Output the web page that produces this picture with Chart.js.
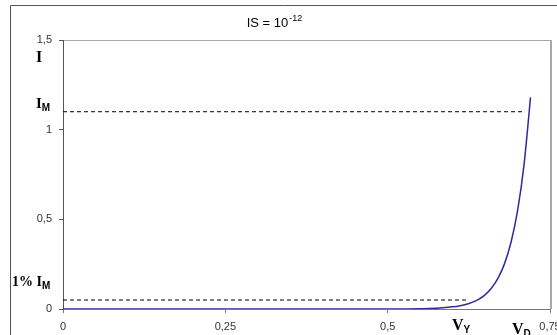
<!DOCTYPE html>
<html>
<head>
<meta charset="utf-8">
<script src="https://cdn.jsdelivr.net/npm/chart.js@4"></script>
<style>
  body { margin: 0; background: #fff; }
  canvas { display: block; }
</style>
</head>
<body>
<canvas id="chart" width="557" height="335"></canvas>
<script>
"use strict";

// diode curve (V, I)
const voltage = [0, 0.1, 0.2, 0.3, 0.4, 0.5, 0.55, 0.58, 0.6, 0.61, 0.62, 0.63, 0.64, 0.65, 0.66, 0.67, 0.68, 0.69, 0.7, 0.71, 0.72];
const current = [0, 0, 0, 0, 0.0001, 0.0002, 0.0016, 0.005, 0.012, 0.017, 0.025, 0.037, 0.054, 0.079, 0.117, 0.172, 0.253, 0.372, 0.547, 0.804, 1.18];

// dashed reference lines
const imLevel = 1.1;
const imEndV = 0.711;
const onePctLevel = 0.05;
const onePctEndV = 0.625;

const xTicks = [0, 0.25, 0.5, 0.75];
const yTicks = [0, 0.5, 1, 1.5];

const SERIF = "'Liberation Serif', 'Times New Roman', serif";
const SANS = "'Liberation Sans', Arial, sans-serif";

const comma = v => String(v).replace(".", ",");

const decor = {
    id: "decor",
    beforeDraw (chart) {
        const {ctx, chartArea: a} = chart;
        ctx.save();
        ctx.fillStyle = "#fff";
        ctx.fillRect(0, 0, chart.width, chart.height);
        // outer frame
        ctx.strokeStyle = "#555";
        ctx.lineWidth = 1;
        ctx.beginPath();
        ctx.moveTo(10.5, 335);
        ctx.lineTo(10.5, 5.5);
        ctx.lineTo(557, 5.5);
        ctx.stroke();
        // plot box
        ctx.strokeStyle = "#a8a8a8";
        ctx.beginPath();
        ctx.moveTo(a.left, a.top + 0.5);
        ctx.lineTo(a.right + 0.5, a.top + 0.5);
        ctx.stroke();
        ctx.lineWidth = 2;
        ctx.beginPath();
        ctx.moveTo(a.right + 1, a.top);
        ctx.lineTo(a.right + 1, a.bottom);
        ctx.stroke();
        ctx.restore();
    },
    afterDraw (chart) {
        const {ctx, scales: {y}} = chart;
        ctx.save();
        ctx.fillStyle = "#000";
        ctx.textBaseline = "alphabetic";

        // title
        const base = "IS = 10";
        ctx.font = "13px " + SANS;
        const w1 = ctx.measureText(base).width;
        ctx.font = "9px " + SANS;
        const w2 = ctx.measureText("-12").width;
        const tx = 274 - (w1 + w2) / 2;
        ctx.font = "13px " + SANS;
        ctx.fillText(base, tx, 27);
        ctx.font = "9px " + SANS;
        ctx.fillText("-12", tx + w1 + 1, 21);

        const sub = (main, s, px, py, size) => {
            ctx.font = "bold " + size + "px " + SERIF;
            ctx.fillText(main, px, py);
            const w = ctx.measureText(main).width;
            ctx.font = "bold 10px " + SANS;
            ctx.fillText(s, px + w, py + 3);
        };

        ctx.font = "bold 16px " + SERIF;
        ctx.fillText("I", 36, 62);
        sub("I", "M", 36, y.getPixelForValue(imLevel) - 4, 15);
        sub("1% I", "M", 12, y.getPixelForValue(onePctLevel) - 14, 14);
        sub("V", "Υ", 452, 330, 16);
        sub("V", "D", 512, 334, 16);
        ctx.restore();
    }
};

new Chart(document.getElementById("chart"), {
    type: "scatter",
    data: {
        datasets: [{
            data: [{x: 0, y: imLevel}, {x: imEndV, y: imLevel}],
            showLine: true,
            borderColor: "#000",
            borderWidth: 1,
            borderDash: [4, 3],
            pointRadius: 0
        }, {
            data: [{x: 0, y: onePctLevel}, {x: onePctEndV, y: onePctLevel}],
            showLine: true,
            borderColor: "#000",
            borderWidth: 1,
            borderDash: [4, 3],
            pointRadius: 0
        }, {
            data: voltage.map((v, i) => ({x: v, y: current[i]})),
            showLine: true,
            borderColor: "#2c2c9c",
            borderWidth: 1.5,
            cubicInterpolationMode: "monotone",
            pointRadius: 0
        }]
    },
    options: {
        responsive: false,
        animation: false,
        devicePixelRatio: 1,
        layout: {padding: {top: 40, right: 7, left: 0, bottom: 0}},
        plugins: {legend: {display: false}, tooltip: {enabled: false}},
        scales: {
            x: {
                type: "linear",
                min: 0,
                max: 0.75,
                afterBuildTicks: s => { s.ticks = xTicks.map(v => ({value: v})); },
                afterFit: s => { s.height = 26; s.paddingLeft = 0; s.paddingRight = 0; },
                ticks: {callback: comma, font: {family: SANS, size: 11}, color: "#333", padding: 7, maxRotation: 0},
                grid: {drawOnChartArea: false, tickLength: 4, color: "#777"},
                border: {color: "#777"}
            },
            y: {
                min: 0,
                max: 1.5,
                afterBuildTicks: s => { s.ticks = yTicks.map(v => ({value: v})); },
                afterFit: s => { s.width = 63; s.paddingTop = 0; s.paddingBottom = 0; },
                ticks: {callback: comma, font: {family: SANS, size: 11}, color: "#333", padding: 7},
                grid: {drawOnChartArea: false, tickLength: 4, color: "#555"},
                border: {color: "#555"}
            }
        }
    },
    plugins: [decor]
});
</script>
</body>
</html>
